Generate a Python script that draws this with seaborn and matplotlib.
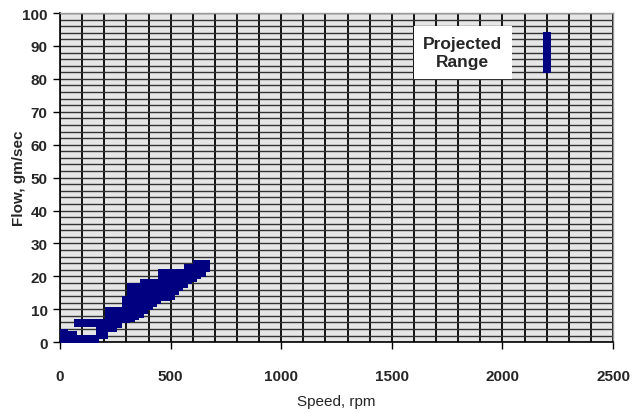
import numpy as np
import pandas as pd
import seaborn as sns
import matplotlib.pyplot as plt

# measured band (speed in rpm, flow in gm/sec), read column by column
speed = [0, 0, 20, 20, 40, 40, 60, 60,
         80, 80, 100, 100, 120, 120, 140, 140, 160, 160,
         180, 180, 180, 200, 200, 200,
         220, 220, 220, 220, 240, 240, 240, 240,
         260, 260, 260, 280, 280,
         300, 300, 300, 300,
         320, 320, 320, 320, 320, 320,
         340, 340, 340, 340, 340, 340,
         360, 360, 360, 360, 360,
         380, 380, 380, 380, 380,
         400, 400, 400, 400, 400,
         420, 420, 420, 420,
         440, 440, 440, 440,
         460, 460, 460, 460, 460,
         480, 480, 480, 480, 480,
         500, 500, 500, 500, 500,
         520, 520, 520, 520,
         540, 540, 540,
         560, 560, 560,
         580, 580, 580,
         600, 600, 600,
         620, 620, 620,
         640, 640, 640,
         660, 660]
flow = [1.1, 2.9, 1.1, 2.9, 1.1, 2.2, 1.1, 2.2,
        1.1, 5.9, 1.1, 5.9, 1.1, 5.9, 1.1, 5.9, 1.1, 5.9,
        2.1, 4.0, 5.9, 2.1, 4.0, 5.9,
        4.4, 6.4, 8.4, 9.4, 4.4, 6.4, 8.4, 9.4,
        5.5, 7.5, 9.4, 7.1, 9.4,
        7.1, 9.0, 11.0, 12.9,
        7.5, 9.5, 11.5, 13.5, 15.5, 16.9,
        8.0, 10.0, 12.0, 14.0, 16.0, 16.9,
        8.7, 10.7, 12.7, 14.7, 16.9,
        9.7, 11.7, 13.7, 15.7, 17.9,
        11.1, 13.1, 15.1, 17.1, 17.9,
        11.8, 13.8, 15.8, 17.9,
        12.8, 14.8, 16.8, 17.9,
        13.6, 15.6, 17.6, 19.6, 20.9,
        13.6, 15.6, 17.6, 19.6, 20.9,
        13.9, 15.9, 17.9, 19.9, 20.9,
        15.7, 17.7, 19.7, 20.9,
        16.8, 18.8, 20.9,
        17.8, 19.8, 20.9,
        18.8, 20.8, 22.6,
        19.6, 21.6, 22.6,
        20.5, 22.5, 23.9,
        21.1, 23.0, 23.9,
        22.4, 23.9]

# projected range
proj_speed = [2200, 2200, 2200, 2200, 2200, 2200]
proj_flow = [83, 85, 87, 89, 91, 93]

x_ticks = [0, 500, 1000, 1500, 2000, 2500]
y_ticks = [0, 10, 20, 30, 40, 50, 60, 70, 80, 90, 100]

df = pd.DataFrame({"speed": speed, "flow": flow})
dp = pd.DataFrame({"speed": proj_speed, "flow": proj_flow})

sns.set_style("white")
plt.rcParams["font.family"] = ["Liberation Sans Narrow", "Liberation Sans", "DejaVu Sans"]

fig = plt.figure(figsize=(6.32, 4.14), dpi=100)
ax = fig.add_axes([0.095, 0.171, 0.875, 0.795])
ax.set_facecolor("#e6e6e6")

# grid lines: every 100 rpm, every 2 gm/sec
for v in np.arange(0, 2501, 100):
    ax.axvline(v, color="black", lw=1.3, zorder=1)
for h in np.arange(0, 101, 2):
    ax.axhline(h, color="#333333", lw=1.0, zorder=1)

sns.scatterplot(data=df, x="speed", y="flow", marker="s", s=32, color="#000080",
                edgecolor="#000080", linewidth=0, ax=ax, zorder=3)
sns.scatterplot(data=dp, x="speed", y="flow", marker="s", s=26, color="#000080",
                edgecolor="#000080", linewidth=0, ax=ax, zorder=3)

ax.text(1821, 88, "Projected\nRange", ha="center", va="center", fontsize=12.5,
        fontweight="bold", family=["Liberation Sans", "DejaVu Sans"], linespacing=1.3,
        bbox=dict(facecolor="white", edgecolor="none", pad=7), zorder=4)

ax.set_xlim(0, 2500)
ax.set_ylim(0, 100)
ax.set_xticks(x_ticks)
ax.set_yticks(y_ticks)
ax.tick_params(axis="both", direction="out", length=5, width=1, color="black",
               labelsize=11, pad=14)
ax.tick_params(axis="y", pad=4)
for lbl in ax.get_xticklabels() + ax.get_yticklabels():
    lbl.set_fontweight("bold")
ax.xaxis.set_ticks_position("bottom")
ax.yaxis.set_ticks_position("left")

ax.set_xlabel("Speed, rpm", fontsize=11, labelpad=8)
ax.set_ylabel("Flow, gm/sec", fontsize=11, fontweight="bold",
              family=["Liberation Sans", "DejaVu Sans"])
ax.yaxis.set_label_coords(-0.062, 0.5)

for side in ["left", "bottom"]:
    ax.spines[side].set_color("black")
    ax.spines[side].set_linewidth(1.2)
for side in ["top", "right"]:
    ax.spines[side].set_color("#999999")
    ax.spines[side].set_linewidth(1.0)

fig.savefig("out.png", dpi=100, facecolor="white")
